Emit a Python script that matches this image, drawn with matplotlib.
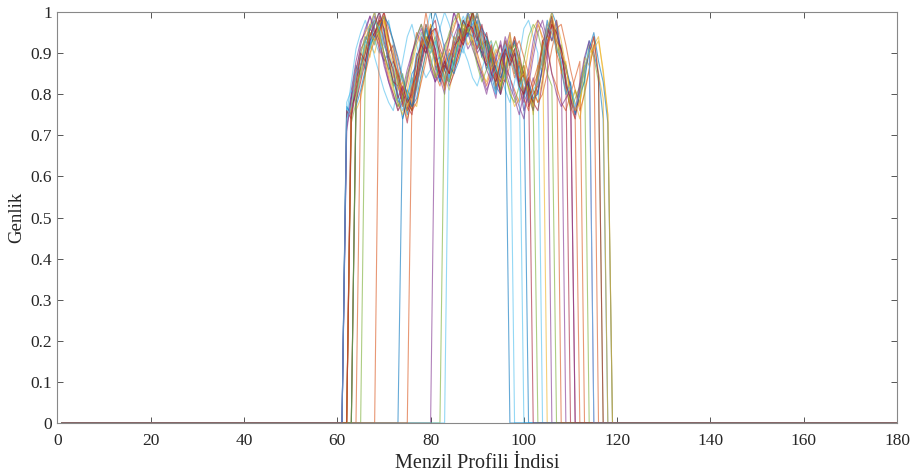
import numpy as np
import matplotlib
matplotlib.use("Agg")
import matplotlib.pyplot as plt

# Normalised range-profile amplitudes for range bins 62..118
# (rows of 10 bins: 62-71, 72-81, 82-91, 92-101, 102-111, 112-118); zero elsewhere
first_bin = 62
n_bins = 180

p01 = [0.74,0.80,0.87,0.84,0.90,0.96,1.00,0.94,0.88,0.90,
       0.85,0.78,0.80,0.75,0.82,0.90,0.88,0.93,0.96,0.87,
       0.83,0.88,0.84,0.90,0.97,0.93,0.96,0.99,0.92,0.90,
       0.94,0.85,0.80,0.88,0.93,0.87,0.90,0.84,0.79,0.83,
       0.77,0.86,0.91,0.98,0.93,0.96,0.86,0.80,0.83,0.75,
       0.82,0.88,0.93,0.90,0.85,0.74,0]
p02 = [0,0.79,0.86,0.91,0.93,0.97,0.95,0.92,0.89,0.84,
       0.80,0.76,0.79,0.83,0.89,0.95,0.92,0.94,0.88,0.85,
       0.82,0.87,0.93,0.96,1.00,0.95,0.97,0.93,0.90,0.86,
       0.82,0.86,0.90,0.92,0.87,0.84,0.81,0.78,0.81,0.84,
       0.91,0.97,0.94,0.92,0.85,0.82,0.78,0.76,0.80,0.84,
       0.88,0,0,0,0,0,0]
p03 = [0,0,0.76,0.79,0.85,0.92,0.90,0.95,0.98,0.93,
       0.91,0.84,0.79,0.74,0.78,0.77,0.84,0.90,0.97,0.93,
       0.90,0.84,0.81,0.86,0.89,0.94,0.99,0.96,1.00,0.95,
       0.92,0.93,0.86,0.82,0.85,0.88,0.94,0.87,0.84,0.79,
       0.81,0.78,0.84,0.92,0.95,0.98,0.93,0.87,0.80,0.78,
       0.74,0.81,0.86,0.92,0.94,0.85,0.75]
p04 = [0.72,0.79,0.83,0.89,0.86,0.93,0.99,0.96,0.90,0.86,
       0.88,0.84,0.77,0.81,0.79,0.85,0.93,0.90,0.95,0.91,
       0.84,0.80,0.88,0.93,0.90,0.94,1.00,0.95,0.91,0.96,
       0.90,0.83,0.87,0.80,0.91,0.95,0.86,0.82,0.76,0.80,
       0.84,0.80,0.87,0.93,0.97,0.91,0.88,0,0,0,
       0,0,0,0,0,0,0]
p05 = [0,0.73,0.78,0.86,0.93,0.91,0.95,0.98,0.92,0.89,
       0.82,0.85,0.79,0.76,0.84,0.81,0.89,0.96,0.90,0.93,
       0.88,0.83,0.89,0.87,0.94,0.98,0.95,1.00,0.93,0.89,
       0.87,0.90,0.83,0.87,0.85,0.92,0.88,0.82,0.86,0.79,
       0.76,0.85,0.88,0.95,0.99,0.90,0.92,0.84,0.77,0.81,
       0.78,0.84,0.92,0.89,0.83,0,0]
p06 = [0.75,0.83,0.91,0.95,0.98,0.94,0.89,0.85,0.81,0.78,
       0.76,0.82,0.88,0.94,0.97,0.92,0.87,0.84,0.86,0.92,
       0.96,1.00,0.97,0.93,0.95,0.91,0.88,0.84,0.82,0.86,
       0.90,0.93,0.89,0.85,0.81,0.78,0.83,0.89,0.96,0.98,
       0.94,0.90,0,0,0,0,0,0,0,0,
       0,0,0,0,0,0,0]
p07 = [0,0.77,0.80,0.87,0.91,0.95,0.93,0.98,0.96,0.90,
       0.92,0.86,0.81,0.77,0.75,0.82,0.87,0.92,0.96,0.98,
       0.91,0.88,0.83,0.87,0.90,0.94,0.97,1.00,0.97,0.92,
       0.95,0.89,0.84,0.81,0.87,0.89,0.93,0.88,0.85,0.80,
       0.78,0.76,0.83,0.90,0.97,0.95,0.91,0.86,0.82,0,
       0,0,0,0,0,0,0]
p08 = [0.77,0.75,0.84,0.90,0.94,0.92,0.97,1.00,0.95,0.87,
       0.83,0.80,0.74,0.79,0.85,0.87,0.91,0.97,0.92,0.88,
       0.89,0.84,0.86,0.94,0.92,0.98,0.95,0.94,0.98,0.91,
       0.86,0.89,0.82,0.80,0.90,0.93,0.85,0.87,0.81,0,
       0,0,0,0,0,0,0,0,0,0,
       0,0,0,0,0,0,0]
p09 = [0,0,0,0.80,0.85,0.90,0.93,0.95,1.00,0.96,
       0.93,0.88,0.83,0.79,0.76,0.78,0.83,0.88,0.94,0.96,
       0.93,0.89,0.85,0.86,0.89,0.93,0.96,0.98,0.99,0.95,
       0.94,0.91,0.88,0.84,0.83,0.87,0.91,0.93,0.89,0.85,
       0.81,0.78,0.80,0.85,0.91,0.96,0.97,0.92,0.86,0.81,
       0.76,0.80,0.86,0.92,0,0,0]
p10 = [0,0,0.79,0.84,0.92,0.89,0.96,0.93,0.98,0.90,
       0.84,0.86,0.77,0.81,0.78,0.88,0.93,0.91,0.97,0.86,
       0.88,0.82,0.90,0.88,0.96,0.94,1.00,0.92,0.97,0.91,
       0.88,0.91,0.81,0.89,0.86,0.94,0.85,0.89,0.80,0.84,
       0.75,0.87,0.86,0.94,0.93,0.97,0.85,0.88,0.78,0.81,
       0.77,0.89,0.87,0.94,0.85,0.79,0]
p11 = [0,0.81,0.88,0.93,0.95,0.99,0.96,0.93,0.87,0.83,
       0.79,0.77,0.81,0.86,0.90,0.94,0.97,0.92,0.86,0.83,
       0.87,0.92,0.94,1.00,0.96,0.95,0.91,0.93,0.88,0.84,
       0.80,0.85,0.88,0.93,0.87,0.84,0.80,0.77,0.74,0.82,
       0.89,0.95,0.98,0.93,0,0,0,0,0,0,
       0,0,0,0,0,0,0]
p12 = [0,0,0,0,0.88,0.95,0.92,0.97,0.99,0.93,
       0.89,0.82,0.85,0.79,0.76,0.84,0.90,0.94,0.91,0.94,
       0.90,0.86,0.83,0.88,0.93,0.97,0.95,1.00,0.94,0.91,
       0.92,0.88,0.86,0.81,0.86,0.92,0.90,0.85,0.87,0.82,
       0.78,0.84,0.92,0.94,0.98,0.92,0.87,0.83,0.76,0.79,
       0.82,0.87,0,0,0,0,0]
p13 = [0.78,0.81,0.78,0.85,0.91,0.97,0.93,0.90,0.95,0.98,
       0.92,0.86,0.83,0.80,0.77,0.81,0.88,0.95,1.00,0.94,
       0.89,0.87,0.84,0.88,0.92,0.90,0.95,0.98,0.93,0.96,
       0.90,0.84,0.86,0.83,0.89,0.92,0,0,0,0,
       0,0,0,0,0,0,0,0,0,0,
       0,0,0,0,0,0,0]
p14 = [0,0,0.78,0.83,0.88,0.93,0.95,0.97,1.00,0.94,
       0.88,0.85,0.80,0.78,0.76,0.83,0.88,0.93,0.95,0.96,
       0.89,0.86,0.82,0.85,0.91,0.95,0.97,0.99,0.96,0.92,
       0.93,0.87,0.85,0.80,0.84,0.90,0.94,0.90,0.84,0.82,
       0.78,0.81,0.86,0.92,0.97,0.95,0.90,0.84,0,0,
       0,0,0,0,0,0,0]
p15 = [0,0,0,0,0,0,0,0,0,0,
       0,0,0.74,0.79,0.77,0.84,0.89,0.96,0.92,0.88,
       0.83,0.86,0.90,0.87,0.93,0.96,0.94,0.99,0.95,0.89,
       0.93,0.88,0.81,0.86,0.91,0.89,0.93,0.85,0.80,0.83,
       0.79,0.80,0.87,0.95,1.00,0.97,0.89,0.87,0.82,0.75,
       0.80,0.83,0.91,0.95,0.88,0.83,0.73]
p16 = [0,0,0,0,0,0,0,0.95,0.99,0.93,
       0.90,0.83,0.80,0.76,0.82,0.85,0.92,1.00,0.93,0.89,
       0.84,0.87,0.91,0.89,0.96,0.92,0.97,0.95,0.91,0.95,
       0.88,0.84,0.87,0.90,0.85,0.92,0.86,0.83,0.87,0.78,
       0.82,0.85,0.93,0.91,0.98,0.90,0.86,0.81,0.77,0.74,
       0,0,0,0,0,0,0]
p17 = [0,0.77,0.84,0.89,0.95,0.97,1.00,0.94,0.90,0.85,
       0.81,0.78,0.75,0.81,0.87,0.92,0.95,0.91,0.87,0.84,
       0.86,0.90,0.94,0.97,0.99,0.96,0.92,0.94,0.89,0.85,
       0.83,0.87,0.91,0.88,0.84,0.81,0.77,0.79,0.84,0.91,
       0.96,0.98,0.93,0,0,0,0,0,0,0,
       0,0,0,0,0,0,0]
p18 = [0,0,0,0,0,0,0,0,0,0,
       0,0,0,0,0,0,0,0,0,0.89,
       0.85,0.82,0.88,0.94,0.97,0.93,1.00,0.96,0.90,0.92,
       0.86,0.83,0.79,0.88,0.94,0.90,0.87,0.82,0.78,0.81,
       0.76,0.84,0.89,0.96,0.93,0.98,0.90,0.83,0.79,0.76,
       0.83,0.89,0.93,0,0,0,0]
p19 = [0,0,0,0,0,0,0,0,0,0,
       0,0,0,0,0,0,0,0,0,0,
       0,0.84,0.83,0.88,0.92,0.95,0.99,1.00,0.96,0.91,
       0.93,0.89,0.86,0.82,0.86,0.90,0.92,0.89,0.84,0.81,
       0.77,0,0,0,0,0,0,0,0,0,
       0,0,0,0,0,0,0]
p20 = [0,0,0,0,0,0,0,0,0,0,
       0,0,0,0,0,0,0,0,0,0,
       0,0,0.90,0.86,0.93,0.97,1.00,0.94,0.92,0.95,
       0.89,0.83,0.80,0.87,0.84,0.91,0.88,0.85,0,0,
       0,0,0,0,0,0,0,0,0,0,
       0,0,0,0,0,0,0]
p21 = [0.76,0.74,0.81,0.87,0.90,0.96,0.94,0.99,0.93,0.88,
       0.83,0.82,0.78,0.73,0.81,0.85,0.94,0.91,0.96,0.90,
       0.84,0.87,0.85,0.92,0.93,0.98,0.96,1.00,0.94,0.90,
       0.87,0.92,0.85,0.83,0.90,0.88,0.91,0.83,0.85,0.77,
       0.80,0.82,0.93,0.94,0.99,0.93,0.91,0.82,0.79,0.74,
       0.81,0.86,0.90,0.94,0.84,0,0]
p22 = [0,0,0.77,0.81,0.86,0.92,0.94,0.96,0.99,0.97,
       0.93,0.89,0.84,0.80,0.77,0.79,0.85,0.90,0.95,1.00,
       0.96,0.91,0.87,0.85,0.88,0.92,0.95,0.97,0.99,0.96,
       0.94,0.90,0.86,0.84,0.87,0,0,0,0,0,
       0,0,0,0,0,0,0,0,0,0,
       0,0,0,0,0,0,0]
p23 = [0,0,0,0,0,0,0,0,0,0,
       0,0,0,0,0.79,0.83,0.90,0.97,0.94,0.89,
       0.86,0.81,0.89,0.92,0.96,0.93,0.98,0.95,1.00,0.93,
       0.88,0.91,0.82,0.85,0.93,0.89,0.84,0.88,0.79,0.76,
       0.83,0.87,0.91,0.97,0.95,0.92,0,0,0,0,
       0,0,0,0,0,0,0]
p24 = [0,0.78,0.83,0.85,0.91,0.95,0.93,0.97,0.99,0.91,
       0.87,0.81,0.83,0.77,0.80,0.88,0.91,0.94,0.92,0.87,
       0.90,0.84,0.86,0.94,0.92,0.97,0.95,0.99,0.96,0.93,
       0.89,0.86,0.88,0.82,0.87,0.95,0.88,0.84,0.85,0.80,
       0.77,0.84,0.89,0.96,1.00,0.93,0.90,0.87,0.80,0.76,
       0.78,0.87,0.90,0.91,0.93,0.86,0.75]
p25 = [0.71,0.79,0.85,0.92,0.96,0.99,0.95,0.91,0.88,0.83,
       0.80,0.76,0.78,0.84,0.90,0.93,0.96,0.92,0.87,0.83,
       0.85,0.89,0.93,1.00,0.97,0.94,0.95,0.91,0.88,0.85,
       0.81,0.84,0.89,0.92,0.86,0.82,0.79,0.75,0.80,0.86,
       0.93,0.98,0.96,0.91,0.85,0.80,0.77,0.79,0.81,0,
       0,0,0,0,0,0,0]
p26 = [0,0,0.80,0.87,0.93,0.96,0.98,0.95,0.90,0.86,
       0.82,0.77,0.79,0.85,0.88,0.94,0.97,0.93,0.89,0.84,
       0.88,0.91,0.95,0.98,1.00,0.94,0.96,0.92,0.87,0.83,
       0.86,0.90,0.93,0.89,0.85,0.80,0.78,0.82,0.88,0.94,
       0.97,0.95,0.90,0.85,0.82,0,0,0,0,0,
       0,0,0,0,0,0,0]
p27 = [0.74,0.77,0.85,0.87,0.93,0.91,0.98,0.96,0.92,0.89,
       0.87,0.80,0.76,0.80,0.83,0.87,0.95,0.92,0.90,0.93,
       0.87,0.83,0.88,0.90,0.96,0.99,0.96,0.97,1.00,0.92,
       0.89,0.84,0.86,0.89,0.92,0.88,0.86,0.81,0.84,0.78,
       0.81,0.83,0.89,0.97,0.95,0.91,0.88,0.80,0.82,0.77,
       0.80,0.86,0.91,0,0,0,0]
p28 = [0,0.75,0.82,0.90,0.88,0.94,0.97,1.00,0.96,0.89,
       0.86,0.79,0.82,0.78,0.80,0.89,0.92,0.90,0.94,0.91,
       0.85,0.88,0.85,0.91,0.94,0.92,0.97,0.96,0.93,0.97,
       0.91,0.85,0.83,0.88,0.91,0.87,0.90,0.82,0.80,0.84,
       0,0,0,0,0,0,0,0,0,0,
       0,0,0,0,0,0,0]

profiles = [p01, p02, p03, p04, p05, p06, p07, p08, p09, p10, p11, p12, p13, p14,
            p15, p16, p17, p18, p19, p20, p21, p22, p23, p24, p25, p26, p27, p28]

x_ticks = [0, 20, 40, 60, 80, 100, 120, 140, 160, 180]
y_ticks = [0, 0.1, 0.2, 0.3, 0.4, 0.5, 0.6, 0.7, 0.8, 0.9, 1]
y_tick_labels = ["0", "0.1", "0.2", "0.3", "0.4", "0.5", "0.6", "0.7", "0.8", "0.9", "1"]

# MATLAB default line colour order
colors = ["#0072BD", "#D95319", "#EDB120", "#7E2F8E", "#77AC30", "#4DBEEE", "#A2142F"]

plt.rcParams["font.family"] = ["Liberation Serif", "DejaVu Serif"]

fig = plt.figure(figsize=(9.14, 4.75), dpi=100)
ax = fig.add_axes([0.0629, 0.1095, 0.9185, 0.8652])

idx = np.arange(1, n_bins + 1)
for i, prof in enumerate(profiles):
    y = np.zeros(n_bins)
    y[first_bin - 1:first_bin - 1 + len(prof)] = prof
    ax.plot(idx, y, color=colors[i % len(colors)], lw=0.8, alpha=0.6)

ax.set_xlim(0, 180)
ax.set_ylim(0, 1)
ax.set_xticks(x_ticks)
ax.set_yticks(y_ticks)
ax.set_yticklabels(y_tick_labels)
ax.tick_params(direction="in", top=True, right=True, length=4, width=0.7,
               color="#555555", labelsize=12.5, labelcolor="#262626")
ax.tick_params(axis="x", pad=7)
ax.tick_params(axis="y", pad=4)
for s in ax.spines.values():
    s.set_color("#888888")
    s.set_linewidth(0.8)

ax.set_xlabel("Menzil Profili İndisi", fontsize=14.5, color="#262626", labelpad=4)
ax.set_ylabel("Genlik", fontsize=13.5, color="#262626", labelpad=4)

fig.savefig("out.png", dpi=100)
